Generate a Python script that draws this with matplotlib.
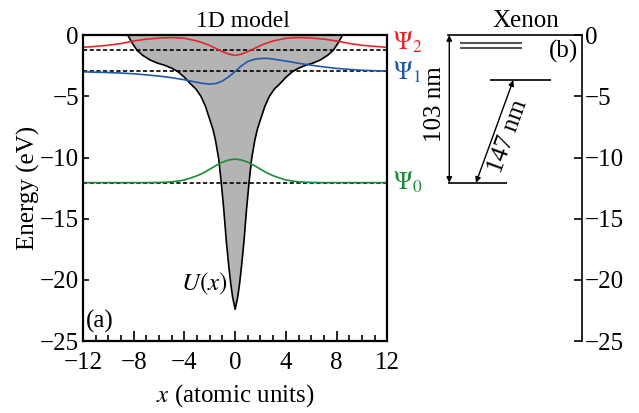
import matplotlib
matplotlib.use('Agg')
import matplotlib.pyplot as plt
from matplotlib.ticker import MultipleLocator

plt.rcParams['font.family'] = 'serif'
plt.rcParams['font.serif'] = ['Liberation Serif', 'DejaVu Serif']
plt.rcParams['mathtext.fontset'] = 'stix'

# potential U(x)
x_u = [-12, -11, -10, -9.5, -9, -8.5, -8.15, -7.75, -7.3, -6.7, -6.1, -5.6, -5.0, -4.5, -4.0,
       -3.55, -3.1, -2.7, -2.35, -2.0, -1.75, -1.55, -1.3, -1.1, -0.9, -0.7, -0.5, -0.35, -0.2,
       0, 0.2, 0.35, 0.5, 0.7, 0.9, 1.1, 1.3, 1.55, 1.75, 2.0, 2.35, 2.7, 3.1, 3.55, 4.0,
       4.5, 5.0, 5.6, 6.1, 6.7, 7.3, 7.75, 8.15, 8.5, 9, 9.5, 10, 11, 12]
u_vals = [3.0, 2.4, 1.8, 1.3, 0.8, 0.05, -0.6, -1.23, -1.65, -2.04, -2.3, -2.45, -2.7, -3.0, -3.45,
          -3.95, -4.4, -5.0, -5.8, -6.9, -7.7, -8.6, -10.1, -12.0, -14.2, -16.8, -18.9, -20.3, -21.4,
          -22.4, -21.4, -20.3, -18.9, -16.8, -14.2, -12.0, -10.1, -8.6, -7.7, -6.9, -5.8, -5.0, -4.4,
          -3.95, -3.45, -3.0, -2.7, -2.45, -2.3, -2.04, -1.65, -1.23, -0.6, 0.05, 0.8, 1.3, 1.8, 2.4, 3.0]

# wave functions (shifted to their energies)
x_psi = [-12, -11, -10, -9, -8, -7, -6, -5, -4, -3, -2.5, -2, -1.5, -1, -0.5, 0,
         0.5, 1, 1.5, 2, 2.5, 3, 4, 5, 6, 7, 8, 9, 10, 11, 12]
psi0 = [-12.05, -12.05, -12.05, -12.05, -12.05, -12.05, -12.04, -11.99, -11.84, -11.49, -11.25,
        -10.95, -10.65, -10.38, -10.2, -10.13, -10.2, -10.38, -10.65, -10.95, -11.25, -11.49,
        -11.84, -11.99, -12.04, -12.05, -12.05, -12.05, -12.05, -12.05, -12.05]
psi1 = [-3.0, -3.03, -3.06, -3.1, -3.16, -3.25, -3.35, -3.48, -3.65, -3.86, -3.95, -4.0, -3.95,
        -3.75, -3.4, -2.97, -2.5, -2.15, -1.98, -1.91, -1.9, -1.96, -2.12, -2.3, -2.46, -2.6,
        -2.72, -2.8, -2.87, -2.91, -2.94]
psi2 = [-1.0, -0.92, -0.83, -0.68, -0.48, -0.33, -0.24, -0.2, -0.26, -0.48, -0.65, -0.85, -1.1,
        -1.35, -1.55, -1.66, -1.55, -1.35, -1.1, -0.85, -0.65, -0.48, -0.26, -0.2, -0.24, -0.33,
        -0.48, -0.68, -0.83, -0.92, -1.0]
levels = [-12.05, -2.97, -1.22]
label_y = [-12.66, -3.68, -1.23]
level_names = [r'$\Psi_0$', r'$\Psi_1$', r'$\Psi_2$']
level_colors = ['#1b8a3a', '#1f5aa6', '#e4262b']

# xenon levels (eV)
xe_ground = -12.06
xe_excited = -3.68
xe_upper = [-0.63, -1.03]

fig = plt.figure(figsize=(6.39, 4.13), dpi=100)
ax = fig.add_axes([0.130, 0.174, 0.476, 0.741])

ax.fill_between(x_u, u_vals, 5, color='#b4b4b4', lw=0)
ax.plot(x_u, u_vals, color='black', lw=1.2)
for e in levels:
    ax.axhline(e, color='black', lw=1.2, ls=(0, (2.5, 1.5)))
for ys, c in zip([psi0, psi1, psi2], level_colors):
    ax.plot(x_psi, ys, color=c, lw=1.2)
for y, name, c in zip(label_y, level_names, level_colors):
    ax.text(1.018, y, name, color=c, fontsize=18, va='baseline', ha='left',
            transform=ax.get_yaxis_transform())

ax.text(-2.4, -20.3, r'$U(x)$', fontsize=18, ha='center', va='center')
ax.text(0.01, 0.025, '(a)', fontsize=18, transform=ax.transAxes, ha='left', va='bottom')

ax.set_xlim(-12, 12)
ax.set_ylim(-25, 0)
ax.xaxis.set_major_locator(MultipleLocator(4))
ax.xaxis.set_minor_locator(MultipleLocator(1))
ax.yaxis.set_major_locator(MultipleLocator(5))
ax.tick_params(which='both', direction='in', top=False, right=False, labelsize=18, width=1.2)
ax.tick_params(axis='x', which='major', length=7, pad=8)
ax.tick_params(axis='x', which='minor', length=4)
ax.tick_params(axis='y', which='major', length=4, pad=3)
for s in ax.spines.values():
    s.set_linewidth(1.6)
ax.set_xlabel(r'$x$ (atomic units)', fontsize=18, labelpad=6)
ax.set_ylabel('Energy (eV)', fontsize=18, labelpad=0)
ax.set_title('1D model', fontsize=17, pad=6, x=0.525)

# xenon panel
ax2 = fig.add_axes([0.701, 0.174, 0.210, 0.741])
ax2.set_xlim(0, 1)
ax2.set_ylim(-25, 0)
ax2.spines['left'].set_visible(False)
ax2.spines['bottom'].set_visible(False)
ax2.spines['top'].set_linewidth(1.2)
ax2.spines['right'].set_linewidth(1.2)
ax2.set_xticks([])
ax2.yaxis.tick_right()
ax2.yaxis.set_major_locator(MultipleLocator(5))
ax2.tick_params(axis='y', direction='in', length=6, width=1.2, labelsize=18, pad=2)

ax2.hlines(xe_upper, 0.09, 0.55, color='#555555', lw=1.5)
ax2.hlines(xe_excited, 0.31, 0.77, color='black', lw=1.2)
ax2.hlines(xe_ground, 0.0, 0.44, color='black', lw=1.2)
ax2.annotate('', xy=(0.01, 0), xytext=(0.01, xe_ground),
             arrowprops=dict(arrowstyle='<|-|>', color='black', lw=1.0,
                             mutation_scale=8, shrinkA=0, shrinkB=0))
ax2.annotate('', xy=(0.487, xe_excited), xytext=(0.209, xe_ground),
             arrowprops=dict(arrowstyle='<|-|>', color='black', lw=1.0,
                             mutation_scale=8, shrinkA=0, shrinkB=0))
ax2.text(-0.1, -5.6, '103 nm', rotation=90, fontsize=18, ha='center', va='center')
ax2.text(0.45, -8.3, '147 nm', rotation=70, fontsize=18, ha='center', va='center')
ax2.text(0.97, -1.3, '(b)', fontsize=18, ha='right', va='center')
ax2.set_title('Xenon', fontsize=18, pad=6, x=0.58)

fig.savefig('out.png', dpi=100)
